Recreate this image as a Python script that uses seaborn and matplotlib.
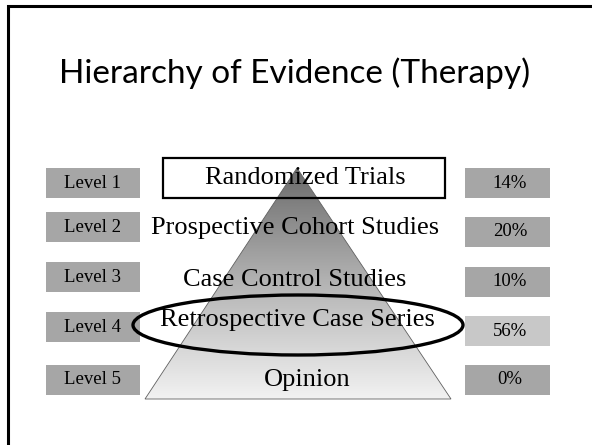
import numpy as np
import matplotlib
matplotlib.use("Agg")
import matplotlib.pyplot as plt
import seaborn as sns
from matplotlib.patches import Polygon, Rectangle, Ellipse

# slide content
title = "Hierarchy of Evidence (Therapy)"
levels = ["Level 1", "Level 2", "Level 3", "Level 4", "Level 5"]
study_types = ["Randomized Trials", "Prospective Cohort Studies",
               "Case Control Studies", "Retrospective Case Series", "Opinion"]
percentages = [14, 20, 10, 56, 0]
highlighted = 3  # the circled level

sns.set_theme(style="white")
plt.rcParams['font.family'] = ['Liberation Serif', 'DejaVu Serif']
plt.rcParams['text.color'] = 'black'

W, H = 592, 445
fig = plt.figure(figsize=(W / 100, H / 100), dpi=100)
ax = fig.add_axes([0, 0, 1, 1])
ax.set_xlim(0, W)
ax.set_ylim(H, 0)
ax.axis('off')

# slide frame (top + left edge visible)
ax.plot([8, 8, W], [H, 5.5, 5.5], color='black', lw=2.2, solid_joinstyle='miter')

ax.text(295, 73, title, ha='center', va='center', fontsize=24,
        family=['Lato', 'DejaVu Sans'], color='black')

# pyramid with vertical grey gradient
apex = (297, 168)
base_l, base_r, base_y = 145, 451, 399
tri = Polygon([apex, (base_l, base_y), (base_r, base_y)], closed=True,
              fc='none', ec='#606060', lw=0.6, zorder=3)
ax.add_patch(tri)
grad = np.linspace(0, 1, 256).reshape(-1, 1)
cmap = sns.blend_palette(['#6a6a6a', '#b4b4b4', '#f2f2f2'], as_cmap=True)
img = ax.imshow(grad, cmap=cmap, extent=[base_l, base_r, base_y, apex[1]],
                aspect='auto', zorder=2, interpolation='bicubic')
img.set_clip_path(tri)

# box around the top level
ax.add_patch(Rectangle((163, 158), 282, 40, fc='none', ec='black', lw=1.6, zorder=4))

# ellipse around the highlighted level
ax.add_patch(Ellipse((298, 325), 330, 60, fc='none', ec='black', lw=2.4, zorder=5))

left_y = [183, 227, 277, 327, 380]
right_y = [183, 232, 282, 331, 380]
text_y = [178, 228, 280, 320, 380]
text_x = [305, 295, 295, 297, 307]

for i, (lev, st, pct) in enumerate(zip(levels, study_types, percentages)):
    ax.add_patch(Rectangle((46, left_y[i] - 15), 94, 30, fc='#a6a6a6', ec='none', zorder=1))
    ax.text(92, left_y[i], lev, ha='center', va='center', fontsize=13.5, zorder=6)
    c = '#c8c8c8' if i == highlighted else '#a6a6a6'
    ax.add_patch(Rectangle((465, right_y[i] - 15), 85, 30, fc=c, ec='none', zorder=1))
    ax.text(510, right_y[i], f"{pct}%", ha='center', va='center', fontsize=13.5, zorder=6)
    ax.text(text_x[i], text_y[i], st, ha='center', va='center', fontsize=19, zorder=6)

fig.savefig("out.png", dpi=100)
